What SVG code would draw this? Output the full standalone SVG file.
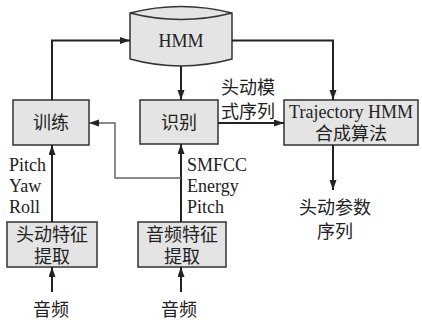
<svg xmlns="http://www.w3.org/2000/svg" width="422" height="320" viewBox="0 0 422 320">
<defs>
<marker id="ah" markerUnits="userSpaceOnUse" markerWidth="11" markerHeight="8" refX="10" refY="3.5" orient="auto">
<path d="M0,0 L10,3.5 L0,7 z" fill="#222"/>
</marker>
<style>
.box{fill:#e4e4e4;stroke:#333;stroke-width:1.5}
.t{font-family:"Liberation Serif","Noto Sans CJK SC",serif;font-size:18px;fill:#222}
.c{text-anchor:middle}
.ln{fill:none;stroke:#222;stroke-width:2}
.ln2{fill:none;stroke:#666;stroke-width:1.5}
</style>
</defs>
<rect width="422" height="320" fill="#fff"/>
<g id="hmm">
<path d="M130,13 Q181,0 232,13 L232,59 Q181,73 130,59 Z" class="box"/>
<path d="M130,13 Q181,26 232,13" fill="none" stroke="#333" stroke-width="1.5"/>
<text x="181" y="47" class="t c">HMM</text>
</g>
<g id="train">
<rect x="13" y="100" width="76" height="45" class="box"/>
<text x="51" y="129" class="t c">训练</text>
</g>
<g id="recog">
<rect x="140" y="100" width="78" height="44" class="box"/>
<text x="179" y="129" class="t c">识别</text>
</g>
<g id="traj">
<rect x="284" y="100" width="134" height="45" class="box"/>
<text x="351" y="118" class="t c">Trajectory HMM</text>
<text x="351" y="140" class="t c">合成算法</text>
</g>
<g id="headfeat">
<rect x="7" y="222" width="90" height="45" class="box"/>
<text x="52" y="241" class="t c">头动特征</text>
<text x="52" y="263" class="t c">提取</text>
</g>
<g id="audiofeat">
<rect x="138" y="222" width="88" height="45" class="box"/>
<text x="182" y="241" class="t c">音频特征</text>
<text x="182" y="263" class="t c">提取</text>
</g>
<g id="labels">
<text x="221" y="94" class="t">头动模</text>
<text x="221" y="118" class="t">式序列</text>
<text x="335" y="214" class="t c">头动参数</text>
<text x="335" y="238" class="t c">序列</text>
<text x="51" y="316" class="t c">音频</text>
<text x="179" y="316" class="t c">音频</text>
<text x="9" y="171" class="t">Pitch</text>
<text x="9" y="192" class="t">Yaw</text>
<text x="9" y="213" class="t">Roll</text>
<text x="187" y="171" class="t">SMFCC</text>
<text x="187" y="192" class="t">Energy</text>
<text x="187" y="213" class="t">Pitch</text>
</g>
<g id="connectors">
<path d="M52,100 L52,40.5 L130,40.5" class="ln" marker-end="url(#ah)"/>
<path d="M181,66 L181,100" class="ln" marker-end="url(#ah)"/>
<path d="M232,40.5 L333,40.5 L333,100" class="ln" marker-end="url(#ah)"/>
<path d="M218,123 L284,123" class="ln" marker-end="url(#ah)"/>
<path d="M333,145 L333,190" class="ln" marker-end="url(#ah)"/>
<path d="M52,222 L52,145" class="ln" marker-end="url(#ah)"/>
<path d="M181,222 L181,144" class="ln" marker-end="url(#ah)"/>
<path d="M181,178 L115,178 L115,123 L89,123" class="ln2" marker-end="url(#ah)"/>
<path d="M52,292 L52,267" class="ln" marker-end="url(#ah)"/>
<path d="M181,292 L181,267" class="ln" marker-end="url(#ah)"/>
</g>
</svg>
